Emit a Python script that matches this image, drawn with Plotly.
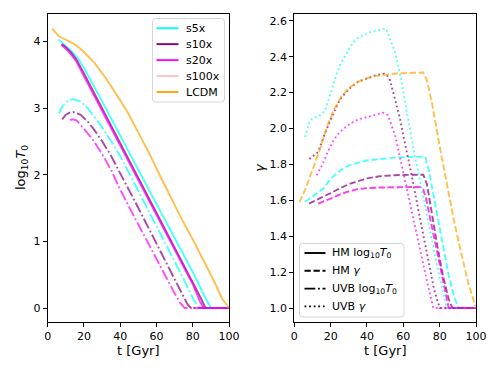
import plotly.graph_objects as go

# ---- 데이터: 왼쪽 패널 (log10 T0) ----
# HM (solid)
lcdm_hm_t = [2.5, 4, 6, 8, 11, 14, 17, 20, 26, 32, 38, 44, 50, 56, 62, 68, 74, 80, 86, 92, 96, 100]
lcdm_hm_logT = [4.19, 4.14, 4.08, 4.05, 4.01, 3.97, 3.91, 3.84, 3.67, 3.45, 3.2, 2.94, 2.63, 2.32,
                1.98, 1.65, 1.33, 1.03, 0.71, 0.39, 0.15, 0.0]

s5x_hm_t = [6, 8, 11, 14, 17, 20, 30, 40, 50, 60, 70, 80, 87, 90, 100]
s5x_hm_logT = [4.03, 3.98, 3.91, 3.83, 3.73, 3.6, 3.1, 2.58, 2.07, 1.56, 1.05, 0.54, 0.15, 0.0, 0.0]

s10x_hm_t = [7.7, 10, 13, 16, 20, 30, 40, 50, 60, 70, 80, 85, 87, 100]
s10x_hm_logT = [3.96, 3.91, 3.83, 3.72, 3.52, 3.0, 2.48, 1.96, 1.44, 0.92, 0.4, 0.12, 0.0, 0.0]

s20x_hm_t = [7.5, 10, 13, 16, 20, 30, 40, 50, 60, 70, 80, 84, 86, 100]
s20x_hm_logT = [3.95, 3.89, 3.8, 3.69, 3.48, 2.96, 2.44, 1.92, 1.4, 0.88, 0.36, 0.1, 0.0, 0.0]

s100x_hm_t = [7.5, 10, 13, 16, 20, 30, 40, 50, 60, 70, 80, 84, 86, 100]
s100x_hm_logT = [3.95, 3.89, 3.8, 3.69, 3.48, 2.96, 2.44, 1.92, 1.4, 0.88, 0.36, 0.1, 0.0, 0.0]

# UVB (dash-dot)
s5x_uvb_t = [6.2, 8, 10, 12, 14, 18, 22, 26, 30, 35, 40, 45, 50, 55, 60, 65, 70, 75, 79, 81, 84, 100]
s5x_uvb_logT = [2.92, 3.02, 3.08, 3.12, 3.13, 3.1, 3.0, 2.86, 2.71, 2.5, 2.28, 2.02, 1.76, 1.5,
                1.24, 0.97, 0.7, 0.43, 0.2, 0.1, 0.0, 0.0]

s10x_uvb_t = [8, 10, 12, 14, 18, 22, 26, 30, 35, 40, 45, 50, 55, 60, 65, 70, 74, 77, 79, 100]
s10x_uvb_logT = [2.83, 2.9, 2.93, 2.94, 2.9, 2.8, 2.66, 2.5, 2.28, 2.03, 1.76, 1.5, 1.23, 0.97,
                 0.7, 0.43, 0.2, 0.06, 0.0, 0.0]

s20x_uvb_t = [12.3, 14, 16, 20, 25, 30, 35, 39, 45, 50, 55, 60, 65, 70, 73, 75.5, 100]
s20x_uvb_logT = [2.82, 2.83, 2.81, 2.69, 2.52, 2.31, 2.07, 1.83, 1.51, 1.25, 0.99, 0.73, 0.47,
                 0.22, 0.08, 0.0, 0.0]

# ---- 데이터: 오른쪽 패널 (gamma) ----
# HM (dashed)
lcdm_hm_gt = [2.8, 6, 10, 14, 18, 22, 26, 30, 35, 40, 45, 50, 55, 60, 65, 71, 73, 76, 80, 84,
              88, 92, 96, 100]
lcdm_hm_gamma = [1.59, 1.66, 1.77, 1.88, 2.01, 2.11, 2.18, 2.225, 2.26, 2.28, 2.293, 2.3, 2.305,
                 2.308, 2.31, 2.312, 2.27, 2.13, 1.9, 1.68, 1.48, 1.3, 1.13, 1.0]

s5x_hm_gt = [5.9, 10, 16, 20, 25, 30, 35, 40, 47, 55, 65, 72, 74, 76, 79, 82, 85, 88, 90.5, 100]
s5x_hm_gamma = [1.59, 1.62, 1.666, 1.72, 1.765, 1.795, 1.81, 1.822, 1.83, 1.838, 1.842, 1.842,
                1.77, 1.66, 1.5, 1.34, 1.18, 1.06, 1.0, 1.0]

s10x_hm_gt = [8.1, 12, 16, 20, 25, 30, 34, 40, 47, 55, 65, 71, 73, 76, 79, 82, 85, 87, 100]
s10x_hm_gamma = [1.582, 1.6, 1.62, 1.64, 1.666, 1.69, 1.703, 1.722, 1.734, 1.74, 1.742, 1.742,
                 1.69, 1.5, 1.33, 1.17, 1.05, 1.0, 1.0]

s20x_hm_gt = [13.2, 16, 20, 25, 29, 35, 40, 47, 55, 62, 69, 71, 72.5, 76, 80, 83, 85, 100]
s20x_hm_gamma = [1.582, 1.595, 1.61, 1.632, 1.647, 1.662, 1.668, 1.671, 1.673, 1.675, 1.675,
                 1.66, 1.61, 1.44, 1.24, 1.08, 1.0, 1.0]

s100x_hm_gt = [13.2, 16, 20, 25, 29, 35, 40, 47, 55, 62, 69, 71, 72.5, 76, 80, 83, 85, 100]
s100x_hm_gamma = [1.582, 1.595, 1.61, 1.632, 1.647, 1.662, 1.668, 1.671, 1.673, 1.675, 1.675,
                  1.66, 1.61, 1.44, 1.24, 1.08, 1.0, 1.0]

# UVB (dotted)
s5x_uvb_gt = [5.9, 8.6, 11, 14, 17, 20.6, 23.3, 26, 28.8, 31.5, 34.3, 38, 41.7, 46, 50.5, 52.7,
              55.4, 57.2, 59.1, 60.9, 62.7, 65.5, 70, 74, 77.4, 80, 84, 100]
s5x_uvb_gamma = [1.953, 2.046, 2.06, 2.073, 2.1, 2.21, 2.305, 2.37, 2.417, 2.465, 2.5, 2.52,
                 2.537, 2.547, 2.556, 2.5, 2.425, 2.35, 2.26, 2.15, 2.04, 1.89, 1.67, 1.46,
                 1.295, 1.17, 1.0, 1.0]

s10x_uvb_gt = [8.3, 11, 13.2, 16, 20, 25, 30, 35, 40, 45, 49.5, 50.8, 52.7, 54.5, 56.3, 58.2,
               60, 62, 65, 68, 71, 74, 77, 80, 100]
s10x_uvb_gamma = [1.83, 1.85, 1.87, 1.95, 2.05, 2.16, 2.22, 2.26, 2.28, 2.298, 2.305, 2.3,
                  2.268, 2.2, 2.13, 2.055, 1.96, 1.87, 1.72, 1.56, 1.4, 1.24, 1.1, 1.0, 1.0]

s20x_uvb_gt = [12.3, 15, 18, 21.5, 25, 30.7, 35, 39.8, 44, 49, 51.5, 53.5, 55.5, 57.5, 60, 65,
               70, 73, 76.5, 100]
s20x_uvb_gamma = [1.74, 1.79, 1.86, 1.934, 1.98, 2.027, 2.05, 2.064, 2.076, 2.088, 2.075, 2.02,
                  1.96, 1.87, 1.75, 1.52, 1.29, 1.15, 1.0, 1.0]

sim_names = ['s5x', 's10x', 's20x', 's100x', 'LCDM']
sim_colors = {'s5x': '#00ffff', 's10x': '#800080', 's20x': '#ff00ff',
              's100x': '#ffc0cb', 'LCDM': '#ffa500'}
style_labels = ['HM log<sub>10</sub><i>T</i><sub>0</sub>', 'HM <i>γ</i>',
                'UVB log<sub>10</sub><i>T</i><sub>0</sub>', 'UVB <i>γ</i>']

# matplotlib 기본 대시 패턴과 비슷하게
DASH = '6.3px,2.7px'
DOT = '1.8px,2.8px'
DASHDOT = '10.8px,2.7px,1.8px,2.7px'
style_dashes = ['solid', DASH, DASHDOT, DOT]
LW = 1.9
FONT = 'DejaVu Sans'

# 페이지 body 여백(8px) 보정: 레퍼런스 픽셀 좌표에서 8을 뺀다
OFF = 8
W, H = 498 - OFF, 374 - OFF


def px(x):
    return (x - OFF) / W


def py(y):
    return 1 - (y - OFF) / H


fig = go.Figure()


def add_line(x, y, color, dash, axis):
    xa, ya = ('x', 'y') if axis == 1 else ('x2', 'y2')
    fig.add_trace(go.Scatter(x=x, y=y, mode='lines', opacity=0.7, showlegend=False,
                             line=dict(color=color, width=LW, dash=dash),
                             xaxis=xa, yaxis=ya, hoverinfo='skip'))


# 1. 왼쪽: log10 T0 (분홍 먼저 그려서 밑에 깔리게)
add_line(s100x_hm_t, s100x_hm_logT, sim_colors['s100x'], 'solid', 1)
add_line(s5x_hm_t, s5x_hm_logT, sim_colors['s5x'], 'solid', 1)
add_line(s5x_uvb_t, s5x_uvb_logT, sim_colors['s5x'], DASHDOT, 1)
add_line(s10x_hm_t, s10x_hm_logT, sim_colors['s10x'], 'solid', 1)
add_line(s10x_uvb_t, s10x_uvb_logT, sim_colors['s10x'], DASHDOT, 1)
add_line(s20x_hm_t, s20x_hm_logT, sim_colors['s20x'], 'solid', 1)
add_line(s20x_uvb_t, s20x_uvb_logT, sim_colors['s20x'], DASHDOT, 1)
add_line(lcdm_hm_t, lcdm_hm_logT, sim_colors['LCDM'], 'solid', 1)

# 2. 오른쪽: gamma
add_line(s100x_hm_gt, s100x_hm_gamma, sim_colors['s100x'], DASH, 2)
add_line(s5x_hm_gt, s5x_hm_gamma, sim_colors['s5x'], DASH, 2)
add_line(s5x_uvb_gt, s5x_uvb_gamma, sim_colors['s5x'], DOT, 2)
add_line(s10x_hm_gt, s10x_hm_gamma, sim_colors['s10x'], DASH, 2)
add_line(s10x_uvb_gt, s10x_uvb_gamma, sim_colors['s10x'], DOT, 2)
add_line(s20x_hm_gt, s20x_hm_gamma, sim_colors['s20x'], DASH, 2)
add_line(s20x_uvb_gt, s20x_uvb_gamma, sim_colors['s20x'], DOT, 2)
add_line(lcdm_hm_gt, lcdm_hm_gamma, sim_colors['LCDM'], DASH, 2)


# 3. 범례 (matplotlib 스타일: 둥근 회색 테두리 박스) - shape + annotation 으로 직접 그림
def rounded_box(x0, y0, x1, y1, r=3):
    pts = [
        f"M {px(x0 + r)},{py(y0)}",
        f"L {px(x1 - r)},{py(y0)}", f"Q {px(x1)},{py(y0)} {px(x1)},{py(y0 + r)}",
        f"L {px(x1)},{py(y1 - r)}", f"Q {px(x1)},{py(y1)} {px(x1 - r)},{py(y1)}",
        f"L {px(x0 + r)},{py(y1)}", f"Q {px(x0)},{py(y1)} {px(x0)},{py(y1 - r)}",
        f"L {px(x0)},{py(y0 + r)}", f"Q {px(x0)},{py(y0)} {px(x0 + r)},{py(y0)} Z",
    ]
    fig.add_shape(type='path', path=' '.join(pts), xref='paper', yref='paper',
                  line=dict(color='#d6d6d6', width=1), fillcolor='rgba(255,255,255,0.8)',
                  layer='above')


def legend_entry(y, x0, x1, xt, color, dash, label):
    fig.add_shape(type='line', xref='paper', yref='paper', x0=px(x0), x1=px(x1),
                  y0=py(y), y1=py(y), line=dict(color=color, width=LW, dash=dash),
                  layer='above')
    fig.add_annotation(text=label, x=px(xt), y=py(y), xref='paper', yref='paper',
                       xanchor='left', yanchor='middle', showarrow=False,
                       font=dict(family=FONT, size=11, color='black'))


rounded_box(152.5, 18.5, 224.5, 102)
for i, name in enumerate(sim_names):
    legend_entry(28.2 + 15.95 * i, 156.5, 178.5, 183.5, sim_colors[name], 'solid', name)

rounded_box(299.5, 243.5, 404, 317)
for i, (lab, d) in enumerate(zip(style_labels, style_dashes)):
    legend_entry(253 + 17.8 * i, 304.5, 325.5, 330, 'black', d, lab)

axis_common = dict(showline=True, mirror=True, linecolor='black', linewidth=1,
                   ticks='outside', ticklen=4, tickwidth=1, tickcolor='black',
                   showgrid=False, zeroline=False, automargin=False,
                   tickfont=dict(family=FONT, size=11, color='black'))

fig.update_layout(
    width=W, height=H,
    margin=dict(l=0, r=0, t=0, b=0),
    paper_bgcolor='white', plot_bgcolor='white',
    showlegend=False,
    font=dict(family=FONT, size=11, color='black'),
    xaxis=dict(domain=[px(47.7), px(229)], range=[0, 100], tickvals=[0, 20, 40, 60, 80, 100],
               anchor='y', **axis_common),
    yaxis=dict(domain=[py(322), py(14)], range=[-0.21, 4.41], tickvals=[0, 1, 2, 3, 4],
               anchor='x', **axis_common),
    xaxis2=dict(domain=[px(294.3), px(476)], range=[0, 100], tickvals=[0, 20, 40, 60, 80, 100],
                anchor='y2', **axis_common),
    yaxis2=dict(domain=[py(322), py(14)], range=[0.922, 2.638],
                tickvals=[1.0, 1.2, 1.4, 1.6, 1.8, 2.0, 2.2, 2.4, 2.6], tickformat='.1f',
                anchor='x2', **axis_common),
)

# 축 제목
titles = [
    dict(text='t [Gyr]', x=px(138.4), y=py(350), textangle=0),
    dict(text='t [Gyr]', x=px(385.2), y=py(350), textangle=0),
    dict(text='log<sub>10</sub><i>T</i><sub>0</sub>', x=px(21), y=py(168), textangle=-90),
    dict(text='<i>γ</i>', x=px(260), y=py(167), textangle=-90),
]
for t in titles:
    fig.add_annotation(text=t['text'], x=t['x'], y=t['y'], xref='paper', yref='paper',
                       xanchor='center', yanchor='middle', textangle=t['textangle'],
                       showarrow=False, font=dict(family=FONT, size=13, color='black'))

fig.write_html("out.html")
